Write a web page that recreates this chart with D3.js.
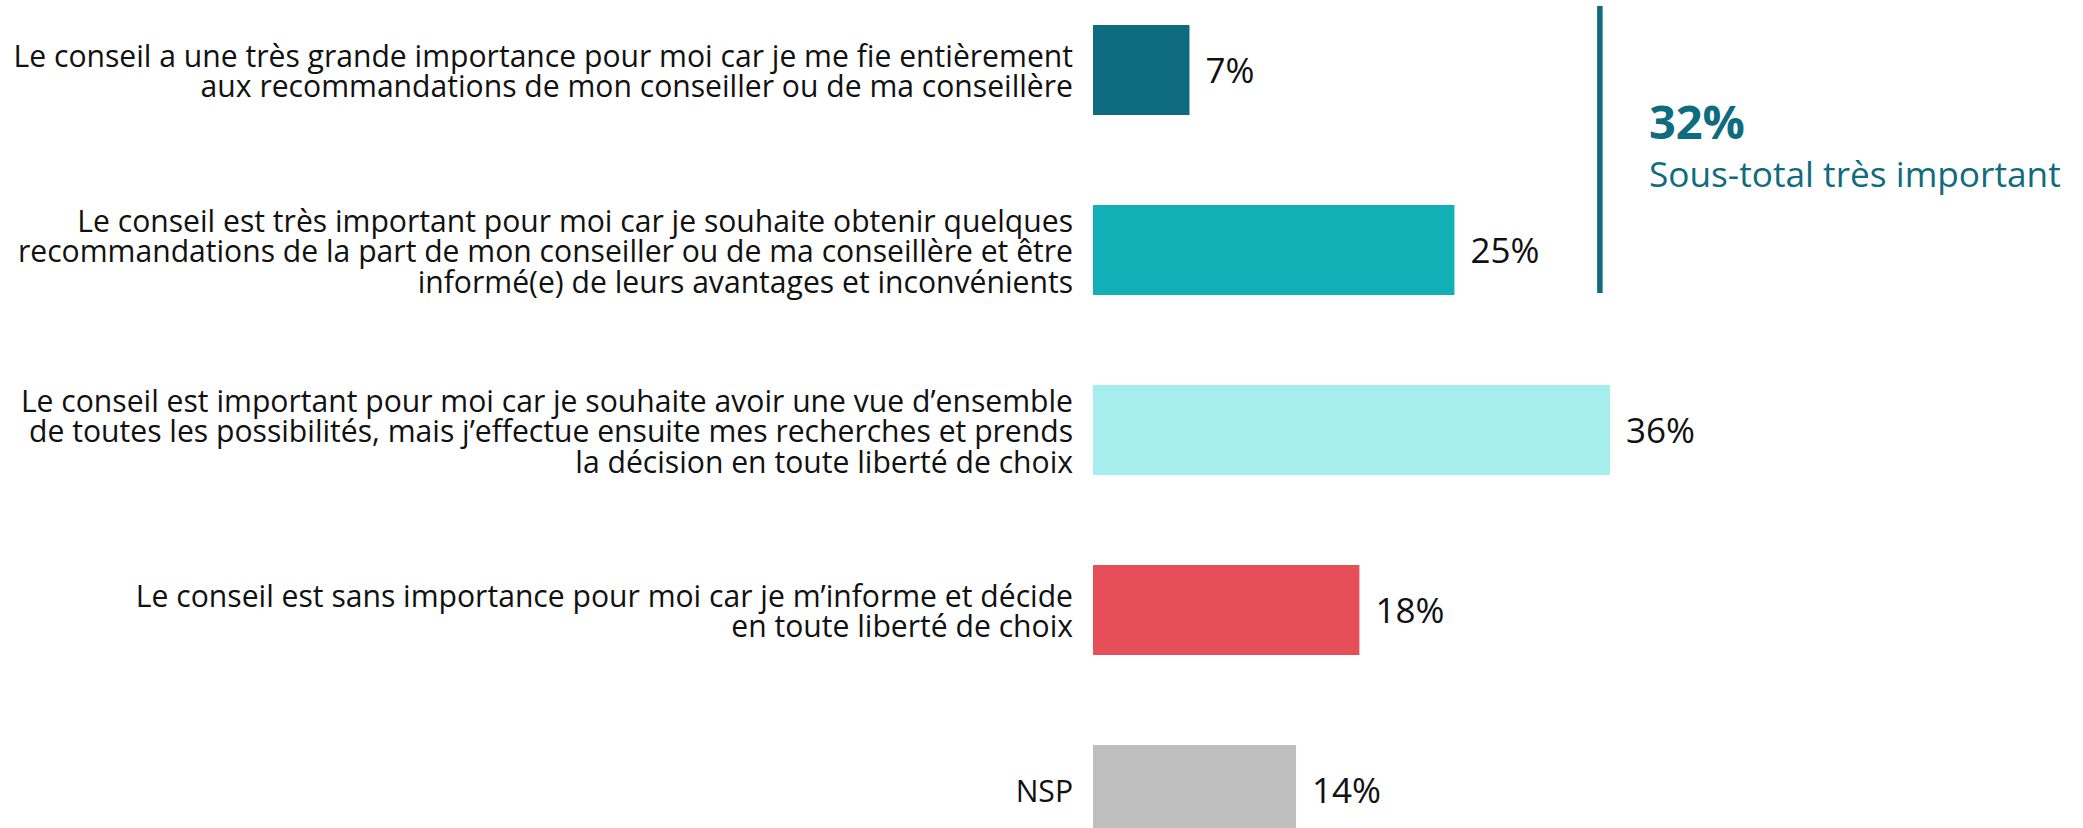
<!DOCTYPE html>
<html>
<head>
<meta charset="utf-8">
<script src="https://cdn.jsdelivr.net/npm/d3@7/dist/d3.min.js"></script>
<style>
  html, body { margin: 0; padding: 0; background: #ffffff; }
  svg { display: block; }
  text { font-family: "Open Sans", "Noto Sans", sans-serif; }
</style>
</head>
<body>
<svg id="chart" width="2083" height="828"></svg>
<script>
// ---- data ----
const categories = ["A", "B", "C", "D", "NSP"];
const categoryLines = [
  ["Le conseil a une très grande importance pour moi car je me fie entièrement",
   "aux recommandations de mon conseiller ou de ma conseillère"],
  ["Le conseil est très important pour moi car je souhaite obtenir quelques",
   "recommandations de la part de mon conseiller ou de ma conseillère et être",
   "informé(e) de leurs avantages et inconvénients"],
  ["Le conseil est important pour moi car je souhaite avoir une vue d’ensemble",
   "de toutes les possibilités, mais j’effectue ensuite mes recherches et prends",
   "la décision en toute liberté de choix"],
  ["Le conseil est sans importance pour moi car je m’informe et décide",
   "en toute liberté de choix"],
  ["NSP"]
];
const values = [6.7, 25.1, 35.9, 18.5, 14.1];
const valueLabels = ["7%", "25%", "36%", "18%", "14%"];
const colors = ["#0e6b80", "#13afb7", "#a6eeed", "#e64f58", "#bfbfbf"];
const subtotalValue = "32%";
const subtotalLabel = "Sous-total très important";
const subtotalMembers = ["A", "B"];

// ---- layout ----
const svg = d3.select("#chart");
const x0 = 1093;
const pxPerPct = 14.4;
const x = d3.scaleLinear().domain([0, 36]).range([x0, x0 + 36 * pxPerPct]);
const y = d3.scaleBand().domain(categories).range([-20, 880])
  .paddingInner(0.5).paddingOuter(0.25);

// bars
svg.append("g").selectAll("rect").data(categories).join("rect")
  .attr("x", x(0))
  .attr("y", d => y(d))
  .attr("width", (d, i) => x(values[i]) - x(0))
  .attr("height", y.bandwidth())
  .attr("fill", (d, i) => colors[i]);

// value labels
svg.append("g").selectAll("text").data(categories).join("text")
  .attr("x", (d, i) => x(values[i]) + 16)
  .attr("y", d => y(d) + y.bandwidth() / 2 + 13)
  .attr("font-size", 35)
  .attr("fill", "#111")
  .text((d, i) => valueLabels[i]);

// category labels (fit font size to reference width)
const probe = svg.append("text").attr("font-size", 100).text(categoryLines[0][0]);
const w100 = probe.node().getComputedTextLength();
probe.remove();
const labelSize = Math.min(31, 100 * 1060 / w100);
const lineH = 30.5;
const labelX = x(0) - 20;
const gL = svg.append("g");
categories.forEach((c, i) => {
  const lines = categoryLines[i];
  const cy = y(c) + y.bandwidth() / 2;
  const t = gL.append("text")
    .attr("text-anchor", "end")
    .attr("font-size", labelSize)
    .attr("fill", "#111");
  lines.forEach((ln, j) => {
    t.append("tspan")
      .attr("x", labelX)
      .attr("y", cy - (lines.length - 1) / 2 * lineH + 12 + j * lineH)
      .text(ln);
  });
});

// subtotal bracket line
const lineX = x(35.2);
svg.append("line")
  .attr("x1", lineX).attr("x2", lineX)
  .attr("y1", y(subtotalMembers[0]) - 19)
  .attr("y2", y(subtotalMembers[1]) + y.bandwidth() - 2)
  .attr("stroke", "#0e6b80")
  .attr("stroke-width", 5.5);

const annX = lineX + 49;
svg.append("text")
  .attr("x", annX).attr("y", 139)
  .attr("font-size", 47).attr("font-weight", 700)
  .attr("fill", "#0e6b80")
  .text(subtotalValue);
const st = svg.append("text")
  .attr("x", annX).attr("y", 187)
  .attr("font-size", 100)
  .attr("fill", "#0e6b80")
  .text(subtotalLabel);
const stw = st.node().getComputedTextLength();
st.attr("font-size", Math.min(36, 100 * 412 / stw));
</script>
</body>
</html>
